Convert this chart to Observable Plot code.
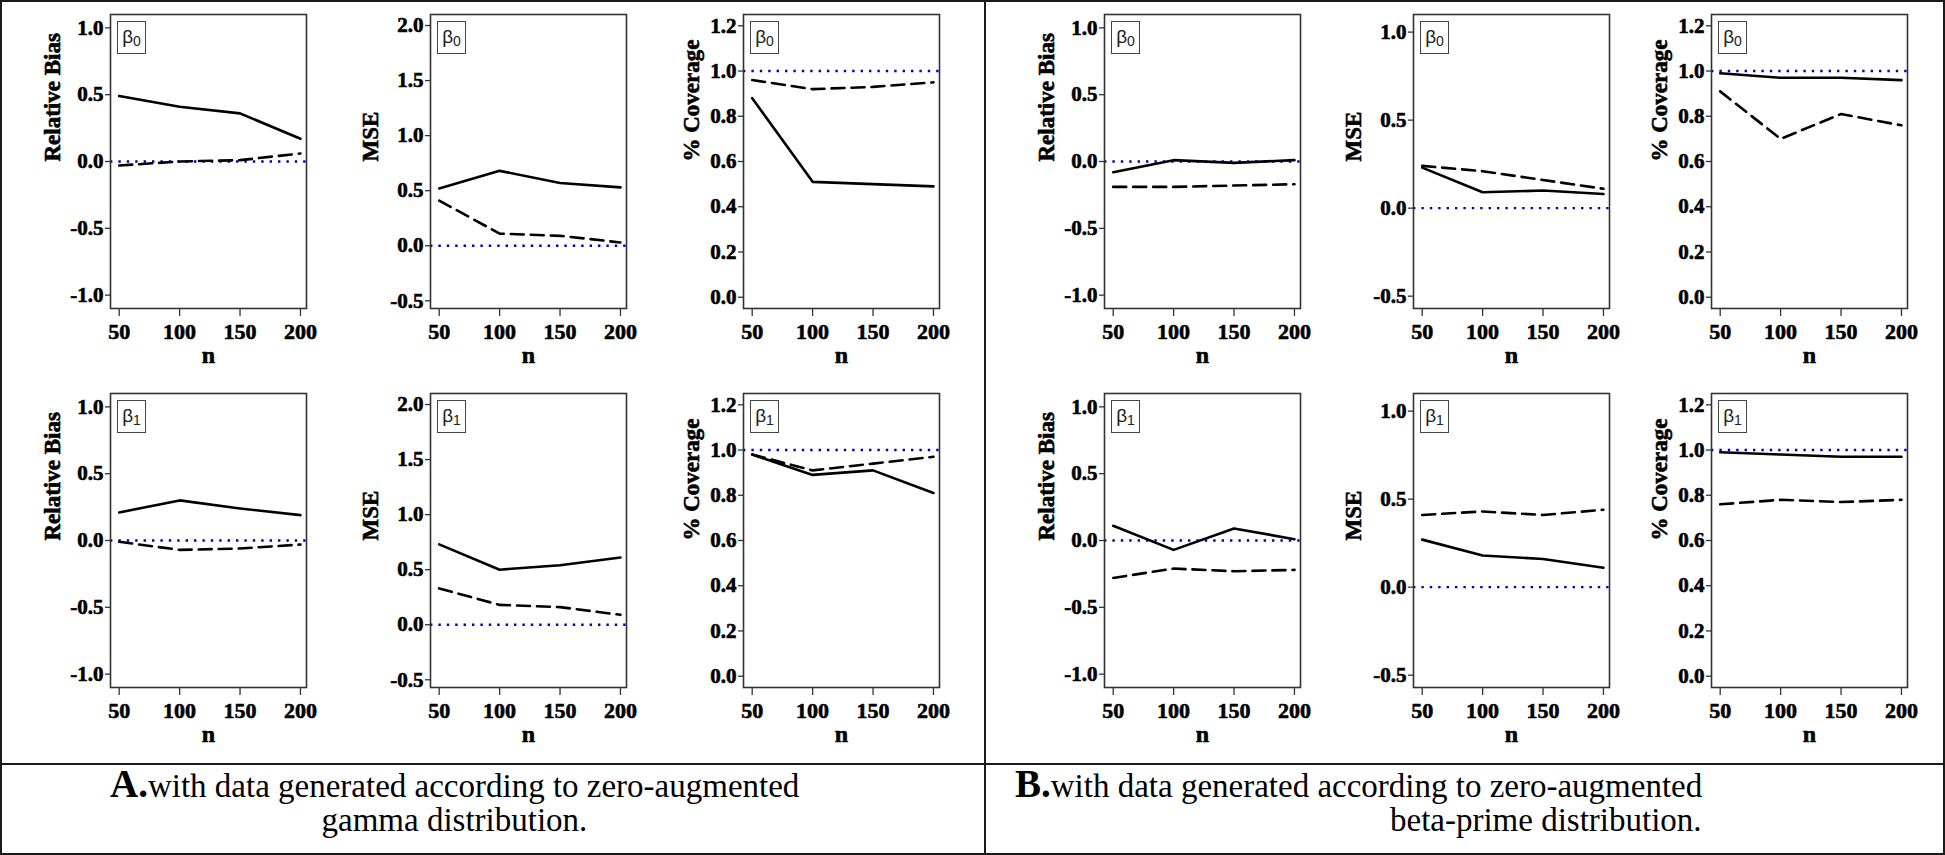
<!DOCTYPE html>
<html><head><meta charset="utf-8">
<script src="https://cdn.jsdelivr.net/npm/d3@7"></script>
<script src="https://cdn.jsdelivr.net/npm/@observablehq/plot@0.6"></script>
<style>
body{margin:0;background:#fff;}
#root{position:relative;width:1945px;height:855px;overflow:hidden;background:#fff;}
.panel{position:absolute;}
.box{position:absolute;width:27px;height:31px;border:1px solid #444;background:#fff;font-family:"Liberation Sans",Arial,sans-serif;font-size:19px;line-height:29px;text-align:center;color:#222;box-sizing:content-box;}
.box sub{font-size:14px;vertical-align:-3px;line-height:0;}
.line{position:absolute;background:#1a1a1a;}
.cap{position:absolute;font-family:"Liberation Serif","Times New Roman",serif;font-size:33px;color:#000;white-space:nowrap;line-height:36px;}
.cap b{font-size:39px;}
</style></head><body><div id="root"></div>
<script>
// ---------- data ----------
const nValues = [50, 100, 150, 200];
const params = ["β0", "β1"];
const yLabels = ["Relative Bias", "MSE", "% Coverage"];
const xLabel = "n";

// A: zero-augmented gamma
const aRelBiasB0Solid = [0.49, 0.41, 0.36, 0.17];
const aRelBiasB0Dashed = [-0.03, 0.00, 0.01, 0.06];
const aMseB0Solid = [0.52, 0.68, 0.57, 0.53];
const aMseB0Dashed = [0.41, 0.11, 0.09, 0.03];
const aCovB0Solid = [0.88, 0.51, 0.50, 0.49];
const aCovB0Dashed = [0.96, 0.92, 0.93, 0.95];
const aRelBiasB1Solid = [0.21, 0.30, 0.24, 0.19];
const aRelBiasB1Dashed = [-0.01, -0.07, -0.06, -0.03];
const aMseB1Solid = [0.73, 0.50, 0.54, 0.61];
const aMseB1Dashed = [0.33, 0.18, 0.16, 0.09];
const aCovB1Solid = [0.98, 0.89, 0.91, 0.81];
const aCovB1Dashed = [0.98, 0.91, 0.94, 0.97];

// B: zero-augmented beta-prime
const bRelBiasB0Solid = [-0.08, 0.01, -0.01, 0.01];
const bRelBiasB0Dashed = [-0.19, -0.19, -0.18, -0.17];
const bMseB0Solid = [0.23, 0.09, 0.10, 0.08];
const bMseB0Dashed = [0.24, 0.21, 0.16, 0.11];
const bCovB0Solid = [0.99, 0.97, 0.97, 0.96];
const bCovB0Dashed = [0.91, 0.70, 0.81, 0.76];
const bRelBiasB1Solid = [0.11, -0.07, 0.09, 0.01];
const bRelBiasB1Dashed = [-0.28, -0.21, -0.23, -0.22];
const bMseB1Solid = [0.27, 0.18, 0.16, 0.11];
const bMseB1Dashed = [0.41, 0.43, 0.41, 0.44];
const bCovB1Solid = [0.99, 0.98, 0.97, 0.97];
const bCovB1Dashed = [0.76, 0.78, 0.77, 0.78];

// reference values
const refRelBias = 0, refMse = 0, refCov = 1;

// tick labels
const xTicks = [50, 100, 150, 200];
const relBiasTicks = [-1, -0.5, 0, 0.5, 1];
const mseTicksA = [-0.5, 0, 0.5, 1, 1.5, 2];
const mseTicksB = [-0.5, 0, 0.5, 1];
const covTicks = [0, 0.2, 0.4, 0.6, 0.8, 1, 1.2];

const captionA = ["A.", "with data generated according to zero-augmented", "gamma distribution."];
const captionB = ["B.", "with data generated according to zero-augmented", "beta-prime distribution."];

// ---------- layout ----------
const root = document.getElementById("root");
const colLefts = [110, 430, 743, 1104, 1413, 1711];
const rowTops = [14, 393];
const FW = 196, FH = 294;
const ML = 110, MR = 8, MT = 4, MB = 72;

const domains = {
  rb: [-1.1, 1.1],
  mseA: [-0.57, 2.1],
  mseB: [-0.57, 1.1],
  cov: [-0.05, 1.25]
};

const panels = [
  {row:0,col:0,p:0,lab:0,dom:domains.rb,ticks:relBiasTicks,ref:refRelBias,s:aRelBiasB0Solid,d:aRelBiasB0Dashed,lo:58},
  {row:0,col:1,p:0,lab:1,dom:domains.mseA,ticks:mseTicksA,ref:refMse,s:aMseB0Solid,d:aMseB0Dashed,lo:60},
  {row:0,col:2,p:0,lab:2,dom:domains.cov,ticks:covTicks,ref:refCov,s:aCovB0Solid,d:aCovB0Dashed,lo:52},
  {row:1,col:0,p:1,lab:0,dom:domains.rb,ticks:relBiasTicks,ref:refRelBias,s:aRelBiasB1Solid,d:aRelBiasB1Dashed,lo:58},
  {row:1,col:1,p:1,lab:1,dom:domains.mseA,ticks:mseTicksA,ref:refMse,s:aMseB1Solid,d:aMseB1Dashed,lo:60},
  {row:1,col:2,p:1,lab:2,dom:domains.cov,ticks:covTicks,ref:refCov,s:aCovB1Solid,d:aCovB1Dashed,lo:52},
  {row:0,col:3,p:0,lab:0,dom:domains.rb,ticks:relBiasTicks,ref:refRelBias,s:bRelBiasB0Solid,d:bRelBiasB0Dashed,lo:58},
  {row:0,col:4,p:0,lab:1,dom:domains.mseB,ticks:mseTicksB,ref:refMse,s:bMseB0Solid,d:bMseB0Dashed,lo:60},
  {row:0,col:5,p:0,lab:2,dom:domains.cov,ticks:covTicks,ref:refCov,s:bCovB0Solid,d:bCovB0Dashed,lo:52},
  {row:1,col:3,p:1,lab:0,dom:domains.rb,ticks:relBiasTicks,ref:refRelBias,s:bRelBiasB1Solid,d:bRelBiasB1Dashed,lo:58},
  {row:1,col:4,p:1,lab:1,dom:domains.mseB,ticks:mseTicksB,ref:refMse,s:bMseB1Solid,d:bMseB1Dashed,lo:60},
  {row:1,col:5,p:1,lab:2,dom:domains.cov,ticks:covTicks,ref:refCov,s:bCovB1Solid,d:bCovB1Dashed,lo:52}
];

const fmt = d => d.toFixed(1);
const serif = "'Liberation Serif', 'Times New Roman', serif";

for (const P of panels) {
  const solid = nValues.map((n, i) => ({n, v: P.s[i]}));
  const dashed = nValues.map((n, i) => ({n, v: P.d[i]}));
  const chart = Plot.plot({
    width: ML + FW + MR,
    height: MT + FH + MB,
    marginLeft: ML, marginRight: MR, marginTop: MT, marginBottom: MB,
    style: {fontFamily: serif, fontWeight: "bold", fontSize: "21px", color: "#000", background: "transparent", overflow: "visible"},
    x: {domain: [42.8, 205]},
    y: {domain: P.dom},
    marks: [
      Plot.ruleY([P.ref], {stroke: "#0000b4", strokeWidth: 2.4, strokeDasharray: "2.4,6"}),
      Plot.line(dashed, {x: "n", y: "v", stroke: "#000", strokeWidth: 2.6, strokeDasharray: "13,7"}),
      Plot.line(solid, {x: "n", y: "v", stroke: "#000", strokeWidth: 2.6}),
      Plot.frame({stroke: "#333", strokeWidth: 1.6}),
      Plot.axisY({ticks: P.ticks, tickFormat: fmt, tickSize: 5, tickPadding: 2, label: null, fontSize: 21, fontWeight: "bold", fontFamily: serif, stroke: "#333", strokeWidth: 1.3, textStroke: "#000", textStrokeWidth: 0.6}),
      Plot.axisX({ticks: xTicks, tickFormat: d => String(d), tickSize: 8, tickPadding: 7, label: null, fontSize: 22, fontWeight: "bold", fontFamily: serif, stroke: "#333", strokeWidth: 1.3, textStroke: "#000", textStrokeWidth: 0.6}),
      Plot.text([yLabels[P.lab]], {frameAnchor: "left", rotate: -90, dx: -P.lo, fontSize: 23, fontWeight: "bold", fontFamily: serif, fill: "#000", stroke: "#000", strokeWidth: 0.6}),
      Plot.text([xLabel], {frameAnchor: "bottom", dy: 54, fontSize: 24, fontWeight: "bold", fontFamily: serif, fill: "#000", stroke: "#000", strokeWidth: 0.6})
    ]
  });
  const wrap = document.createElement("div");
  wrap.className = "panel";
  wrap.style.left = (colLefts[P.col] - ML) + "px";
  wrap.style.top = (rowTops[P.row] - MT) + "px";
  wrap.appendChild(chart);
  root.appendChild(wrap);
  const box = document.createElement("div");
  box.className = "box";
  box.style.left = (colLefts[P.col] + 7) + "px";
  box.style.top = (rowTops[P.row] + 7) + "px";
  box.innerHTML = "β<sub>" + params[P.p].slice(1) + "</sub>";
  root.appendChild(box);
}

// ---------- borders ----------
function addLine(x, y, w, h) {
  const l = document.createElement("div");
  l.className = "line";
  l.style.left = x + "px"; l.style.top = y + "px";
  l.style.width = w + "px"; l.style.height = h + "px";
  root.appendChild(l);
}
addLine(0, 0, 1945, 2);
addLine(0, 853, 1945, 2);
addLine(0, 0, 2, 855);
addLine(1943, 0, 2, 855);
addLine(984, 0, 2, 855);
addLine(0, 763, 1945, 2);

// ---------- captions ----------
function addCap(html, y) {
  const c = document.createElement("div");
  c.className = "cap";
  c.style.top = y + "px";
  c.innerHTML = html;
  root.appendChild(c);
  return c;
}
const a1 = addCap("<b>" + captionA[0] + "</b>" + captionA[1], 766);
a1.style.left = "110px";
const a2 = addCap(captionA[2], 802);
a2.style.left = (110 + a1.offsetWidth / 2 - a2.offsetWidth / 2) + "px";
const b1 = addCap("<b>" + captionB[0] + "</b>" + captionB[1], 766);
b1.style.left = "1015px";
const b2 = addCap(captionB[2], 802);
b2.style.left = (1015 + b1.offsetWidth - b2.offsetWidth) + "px";
</script>
</body></html>
